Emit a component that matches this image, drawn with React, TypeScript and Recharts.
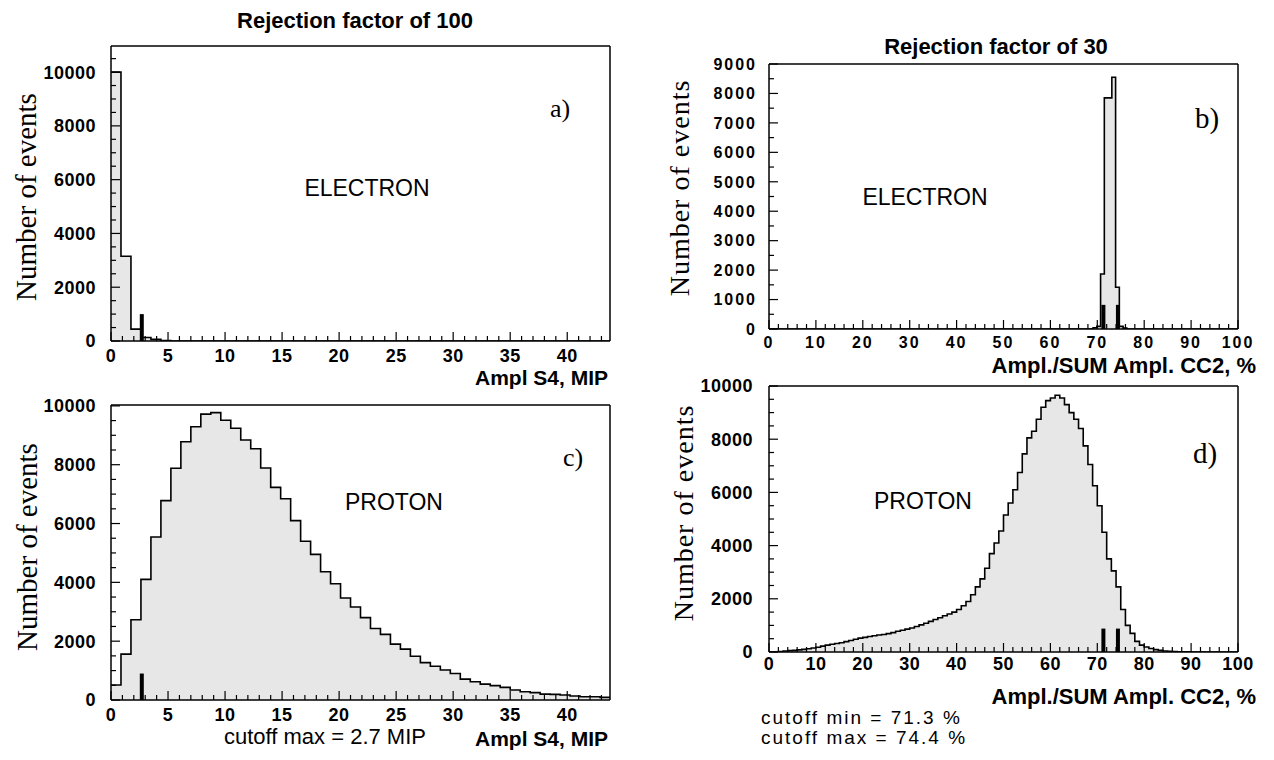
import { Area, ComposedChart, ReferenceLine, XAxis, YAxis } from 'recharts'

// Ampl S4 histograms (MIP), 50 bins of 0.875 MIP
const S4_BIN_WIDTH = 0.875
const S4_MAX = 43.75
const electronS4Counts = [10000, 3150, 440, 130, 60, 20, 0]
const protonS4Counts = [
  510, 1560, 2730, 4100, 5540, 6780, 7880, 8780, 9290, 9720,
  9770, 9510, 9240, 8840, 8540, 7890, 7230, 6840, 6100, 5400,
  4950, 4360, 3950, 3470, 3160, 2800, 2430, 2230, 1900, 1730,
  1490, 1270, 1150, 1020, 900, 710, 620, 540, 490, 430,
  340, 280, 250, 200, 190, 170, 135, 110, 110, 90,
]
const S4_CUTOFF_MAX = 2.7

// Ampl./SUM Ampl. CC2 (%)
const CC_MAX = 100
const ccElectronEdges = [0, 69.1, 69.9, 70.7, 71.5, 72.3, 73.1, 73.9, 74.7, 75.5, 76.3]
const ccElectronCounts = [0, 40, 90, 1870, 7850, 7850, 8550, 1420, 90, 30, 0]
const ccProtonCounts = [
  0, 0, 20, 40, 50, 60, 80, 100, 120, 150,
  180, 220, 260, 290, 320, 350, 390, 430, 480, 520,
  550, 580, 610, 640, 660, 690, 730, 780, 820, 860,
  900, 960, 1020, 1080, 1150, 1220, 1290, 1360, 1430, 1500,
  1600, 1740, 1900, 2150, 2450, 2750, 3150, 3700, 4100, 4550,
  5150, 5600, 6100, 6750, 7450, 8050, 8300, 8750, 9200, 9450,
  9550, 9650, 9550, 9300, 9000, 8750, 8400, 7750, 7050, 6250,
  5500, 4500, 3500, 3050, 2450, 1600, 1000, 700, 400, 260,
  190, 130, 90, 60, 40, 25, 15, 10, 5, 5,
  0, 0, 0, 0, 0, 0, 0, 0, 0, 0,
]
const CC_CUTOFFS = [71.3, 74.4]

// tick labels
const s4XLabels = [0, 5, 10, 15, 20, 25, 30, 35, 40]
const ccXLabels = [0, 10, 20, 30, 40, 50, 60, 70, 80, 90, 100]
const evenYLabels = [0, 2000, 4000, 6000, 8000, 10000]
const ccElectronYLabels = [0, 1000, 2000, 3000, 4000, 5000, 6000, 7000, 8000, 9000]

const SANS = '"Liberation Sans", Arial, Helvetica, sans-serif'
const SERIF = '"Liberation Serif", "Times New Roman", serif'

type Pt = { x: number; n: number }

function toSteps(edges: number[], counts: number[], end: number): Pt[] {
  const pts = counts.map((n, i) => ({ x: edges[i], n }))
  pts.push({ x: end, n: counts[counts.length - 1] })
  return pts
}

const s4Edges = protonS4Counts.map((_, i) => i * S4_BIN_WIDTH)
const ccEdges = ccProtonCounts.map((_, i) => i)

const electronS4Data = toSteps(s4Edges, electronS4Counts, S4_MAX)
const protonS4Data = toSteps(s4Edges, protonS4Counts, S4_MAX)
const ccElectronData = toSteps(ccElectronEdges, ccElectronCounts, CC_MAX)
const ccProtonData = toSteps(ccEdges, ccProtonCounts, CC_MAX)

function stepsTo(max: number, step: number) {
  const out: number[] = []
  for (let v = 0; v <= max + 1e-9; v += step) out.push(Math.round(v * 1000) / 1000)
  return out
}

interface TickFont {
  size: number
  spacing: number
  xGap: number
  yGap: number
}

interface PanelProps {
  rect: { left: number; top: number; width: number; height: number }
  box: { x0: number; y0: number; x1: number; y1: number }
  data: Pt[]
  xMax: number
  yMax: number
  xLabels: number[]
  xMinor: number
  yLabels: number[]
  yMinor: number
  markers: number[]
  markerHeight: number
  font: TickFont
}

// axes of size 0 are not drawn by recharts, so each one takes 1px
function Panel({ rect, box, data, xMax, yMax, xLabels, xMinor, yLabels, yMinor, markers, markerHeight, font }: PanelProps) {
  const margin = {
    left: box.x0 - rect.left - 1,
    top: box.y0 - rect.top - 1,
    right: rect.left + rect.width - box.x1 - 1,
    bottom: rect.top + rect.height - box.y1 - 1,
  }
  const xTicks = stepsTo(xMax, xMinor)
  const yTicks = stepsTo(yMax, yMinor)

  const textStyle = {
    fontFamily: SANS,
    fontWeight: 700,
    fontSize: font.size,
    letterSpacing: font.spacing,
    fill: '#000',
  }

  const xTick = (p: any) => {
    const v = p.payload.value
    const major = xLabels.includes(v)
    return (
      <g>
        <line x1={p.x} y1={p.y} x2={p.x} y2={p.y - (major ? 9 : 5)} stroke="#000" strokeWidth={1.2} />
        {major && (
          <text x={p.x} y={p.y + font.xGap} textAnchor="middle" style={textStyle}>
            {v}
          </text>
        )}
      </g>
    )
  }

  const yTick = (p: any) => {
    const v = p.payload.value
    const major = yLabels.includes(v)
    return (
      <g>
        <line x1={p.x} y1={p.y} x2={p.x + (major ? 9 : 5)} y2={p.y} stroke="#000" strokeWidth={1.2} />
        {major && (
          <text x={p.x - font.yGap} y={p.y + font.size * 0.36} textAnchor="end" style={textStyle}>
            {v}
          </text>
        )}
      </g>
    )
  }

  const frame = { stroke: '#000', strokeWidth: 1.5 }

  return (
    <div style={{ position: 'absolute', left: rect.left, top: rect.top }}>
      <ComposedChart width={rect.width} height={rect.height} data={data} margin={margin}>
        <XAxis
          dataKey="x"
          type="number"
          domain={[0, xMax]}
          allowDataOverflow
          ticks={xTicks}
          interval={0}
          height={1}
          tickSize={0}
          tickMargin={0}
          tickLine={false}
          tick={xTick}
          axisLine={frame}
        />
        <XAxis xAxisId="top" orientation="top" type="number" domain={[0, 1]} height={1} tick={false} tickLine={false} axisLine={frame} />
        <YAxis
          type="number"
          domain={[0, yMax]}
          allowDataOverflow
          ticks={yTicks}
          interval={0}
          width={1}
          tickSize={0}
          tickMargin={0}
          tickLine={false}
          tick={yTick}
          axisLine={frame}
        />
        <YAxis yAxisId="right" orientation="right" type="number" domain={[0, 1]} width={1} tick={false} tickLine={false} axisLine={frame} />
        <Area
          type="stepAfter"
          dataKey="n"
          stroke="#000"
          strokeWidth={1.6}
          fill="#e7e7e7"
          fillOpacity={1}
          dot={false}
          activeDot={false}
          isAnimationActive={false}
        />
        {markers.map((m) => (
          <ReferenceLine
            key={m}
            segment={[
              { x: m, y: 0 },
              { x: m, y: markerHeight },
            ]}
            stroke="#000"
            strokeWidth={4}
          />
        ))}
      </ComposedChart>
    </div>
  )
}

function Txt({
  x,
  y,
  children,
  size,
  bold,
  serif,
  anchor = 'middle',
  rotate,
  spacing,
}: {
  x: number
  y: number
  children: string
  size: number
  bold?: boolean
  serif?: boolean
  anchor?: 'start' | 'middle' | 'end'
  rotate?: boolean
  spacing?: number
}) {
  const tx = anchor === 'start' ? '0' : anchor === 'end' ? '-100%' : '-50%'
  return (
    <div
      style={{
        position: 'absolute',
        left: x,
        top: y,
        transform: `translate(${tx}, -50%)${rotate ? ' rotate(-90deg)' : ''}`,
        whiteSpace: 'nowrap',
        fontFamily: serif ? SERIF : SANS,
        fontWeight: bold ? 700 : 400,
        fontSize: size,
        letterSpacing: spacing,
        lineHeight: 1,
        color: '#000',
      }}
    >
      {children}
    </div>
  )
}

const bigFont: TickFont = { size: 18, spacing: 0.5, xGap: 21, yGap: 15 }
const smallFont: TickFont = { size: 16, spacing: 2, xGap: 19, yGap: 12 }

export default function App() {
  return (
    <div style={{ position: 'absolute', left: 0, top: 0, width: 1274, height: 760, background: '#fff', overflow: 'hidden' }}>
      <Panel
        rect={{ left: 0, top: 30, width: 625, height: 345 }}
        box={{ x0: 111, y0: 46, x1: 610, y1: 341 }}
        data={electronS4Data}
        xMax={S4_MAX}
        yMax={10970}
        xLabels={s4XLabels}
        xMinor={1}
        yLabels={evenYLabels}
        yMinor={500}
        markers={[S4_CUTOFF_MAX]}
        markerHeight={1000}
        font={bigFont}
      />
      <Panel
        rect={{ left: 0, top: 395, width: 625, height: 335 }}
        box={{ x0: 111, y0: 405, x1: 610, y1: 700 }}
        data={protonS4Data}
        xMax={S4_MAX}
        yMax={10030}
        xLabels={s4XLabels}
        xMinor={1}
        yLabels={evenYLabels}
        yMinor={500}
        markers={[S4_CUTOFF_MAX]}
        markerHeight={900}
        font={bigFont}
      />
      <Panel
        rect={{ left: 640, top: 55, width: 630, height: 295 }}
        box={{ x0: 769, y0: 64, x1: 1238, y1: 329 }}
        data={ccElectronData}
        xMax={CC_MAX}
        yMax={9000}
        xLabels={ccXLabels}
        xMinor={2}
        yLabels={ccElectronYLabels}
        yMinor={500}
        markers={CC_CUTOFFS}
        markerHeight={820}
        font={smallFont}
      />
      <Panel
        rect={{ left: 640, top: 376, width: 630, height: 300 }}
        box={{ x0: 769, y0: 386, x1: 1238, y1: 652 }}
        data={ccProtonData}
        xMax={CC_MAX}
        yMax={10000}
        xLabels={ccXLabels}
        xMinor={2}
        yLabels={evenYLabels}
        yMinor={500}
        markers={CC_CUTOFFS}
        markerHeight={880}
        font={{ size: 18, spacing: 0.5, xGap: 18, yGap: 16 }}
      />

      <Txt x={355} y={21} size={22} bold>Rejection factor of 100</Txt>
      <Txt x={996} y={47} size={22} bold>Rejection factor of 30</Txt>

      <Txt x={26} y={197} size={29} serif rotate>Number of events</Txt>
      <Txt x={27} y={547} size={29} serif rotate>Number of events</Txt>
      <Txt x={680} y={188} size={28} serif rotate spacing={1}>Number of events</Txt>
      <Txt x={684} y={513} size={28} serif rotate spacing={1}>Number of events</Txt>

      <Txt x={560} y={109} size={26} serif>a)</Txt>
      <Txt x={573} y={458} size={26} serif>c)</Txt>
      <Txt x={1207} y={118} size={29} serif>b)</Txt>
      <Txt x={1205} y={453} size={29} serif>d)</Txt>

      <Txt x={367} y={188} size={23}>ELECTRON</Txt>
      <Txt x={394} y={502} size={23}>PROTON</Txt>
      <Txt x={925} y={197} size={23}>ELECTRON</Txt>
      <Txt x={923} y={501} size={23}>PROTON</Txt>

      <Txt x={608} y={377} size={21} bold anchor="end">Ampl S4, MIP</Txt>
      <Txt x={608} y={738} size={21} bold anchor="end">Ampl S4, MIP</Txt>
      <Txt x={325} y={737} size={22}>cutoff max = 2.7 MIP</Txt>

      <Txt x={1256} y={366} size={22} bold anchor="end">Ampl./SUM Ampl. CC2, %</Txt>
      <Txt x={1256} y={697} size={22} bold anchor="end">Ampl./SUM Ampl. CC2, %</Txt>
      <Txt x={761} y={717} size={19} anchor="start" spacing={2}>cutoff min = 71.3 %</Txt>
      <Txt x={761} y={737} size={19} anchor="start" spacing={2}>cutoff max = 74.4 %</Txt>
    </div>
  )
}
